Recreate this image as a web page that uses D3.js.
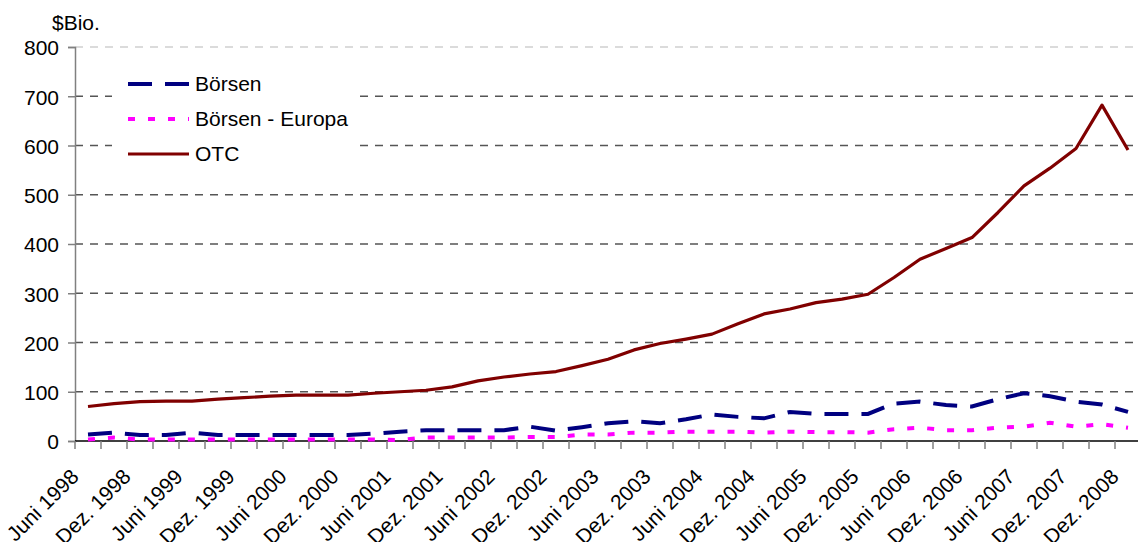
<!DOCTYPE html>
<html>
<head>
<meta charset="utf-8">
<script src="https://cdn.jsdelivr.net/npm/d3@7"></script>
<style>
  html, body { margin: 0; padding: 0; background: #fff; }
  svg { display: block; }
  text { font-family: "Liberation Sans", Arial, sans-serif; fill: #000; }
</style>
</head>
<body>
<svg id="chart" width="1138" height="542"></svg>
<script>
// ---- data ----
const categories = [
  "Juni 1998","Sept. 1998","Dez. 1998","März 1999","Juni 1999","Sept. 1999","Dez. 1999","März 2000",
  "Juni 2000","Sept. 2000","Dez. 2000","März 2001","Juni 2001","Sept. 2001","Dez. 2001","März 2002",
  "Juni 2002","Sept. 2002","Dez. 2002","März 2003","Juni 2003","Sept. 2003","Dez. 2003","März 2004",
  "Juni 2004","Sept. 2004","Dez. 2004","März 2005","Juni 2005","Sept. 2005","Dez. 2005","März 2006",
  "Juni 2006","Sept. 2006","Dez. 2006","März 2007","Juni 2007","Sept. 2007","Dez. 2007","Juni 2008",
  "Dez. 2008"
];
const shownLabels = [
  "Juni 1998","Dez. 1998","Juni 1999","Dez. 1999","Juni 2000","Dez. 2000","Juni 2001","Dez. 2001",
  "Juni 2002","Dez. 2002","Juni 2003","Dez. 2003","Juni 2004","Dez. 2004","Juni 2005","Dez. 2005",
  "Juni 2006","Dez. 2006","Juni 2007","Dez. 2007","Dez. 2008"
];
const boersen = [13,17,12,12,17,12,12,12,12,12,12,15,19,22,22,22,22,29,21,28,
                 36,40,36,44,54,49,46,59,55,55,55,76,80,73,70,85,97,91,80,74,59];
const boersenEuropa = [3,7,3,3,3,3,3,3,3,3,3,3,2,7,7,7,7,8,8,13,
                       13,17,17,19,19,19,17,19,18,18,17,24,27,22,22,27,29,37,29,34,27];
const otc = [70,76,80,81,81,85,88,91,93,93,93,97,100,103,110,122,130,136,141,153,
             166,185,198,207,217,238,258,268,281,288,298,332,369,391,413,464,518,554,594,682,591];
const yTicks = [0,100,200,300,400,500,600,700,800];
const seriesNames = ["Börsen","Börsen - Europa","OTC"];

// ---- layout ----
const svg = d3.select("#chart");
const x0 = 75, step = 26, yBottom = 441, yTop = 47;
const x = d3.scaleBand().domain(categories).range([x0, x0 + step * categories.length]).padding(0);
const cx = c => x(c) + x.bandwidth() / 2;
const y = d3.scaleLinear().domain([0, 800]).range([yBottom, yTop]);

// gridlines
svg.append("g").selectAll("line").data(yTicks.filter(d => d > 0)).join("line")
  .attr("x1", x0).attr("x2", 1138)
  .attr("y1", d => y(d)).attr("y2", d => y(d))
  .attr("stroke", d => d === 800 ? "#cfcfcf" : "#555")
  .attr("stroke-width", 1.3)
  .attr("stroke-dasharray", "8,7");

// y axis
const yAxis = d3.axisLeft(y).tickValues(yTicks).tickSize(7).tickPadding(9).tickFormat(d3.format("d"));
const gy = svg.append("g").attr("transform", `translate(${x0},0)`).call(yAxis);
gy.select(".domain").attr("stroke", "#808080").attr("stroke-width", 1.5);
gy.selectAll(".tick line").attr("stroke", "#808080").attr("stroke-width", 1.5);
gy.selectAll(".tick text").attr("font-size", 21).attr("font-family", "Liberation Sans, Arial, sans-serif").attr("fill", "#000").attr("dy", "0.38em");

// x axis line + ticks between categories
svg.append("line").attr("x1", x0).attr("x2", 1138).attr("y1", yBottom).attr("y2", yBottom)
  .attr("stroke", "#000").attr("stroke-width", 1.5);
const tickPos = d3.range(categories.length + 1).map(i => x0 + i * x.step());
svg.append("g").selectAll("line").data(tickPos).join("line")
  .attr("x1", d => d).attr("x2", d => d).attr("y1", yBottom).attr("y2", yBottom + 8)
  .attr("stroke", "#808080").attr("stroke-width", 1.5);

// x labels
svg.append("g").selectAll("text").data(shownLabels).join("text")
  .attr("transform", d => `translate(${cx(d) - 8},${yBottom + 37}) rotate(-45)`)
  .attr("text-anchor", "end")
  .attr("font-size", 21)
  .text(d => d);

// y title
svg.append("text").attr("x", 52).attr("y", 30).attr("font-size", 21).text("$Bio.");

// lines
const line = d3.line().x((d, i) => cx(categories[i])).y(d => y(d));
svg.append("path").datum(boersen).attr("d", line)
  .attr("fill", "none").attr("stroke", "#000080").attr("stroke-width", 4)
  .attr("stroke-dasharray", "24,13");
svg.append("path").datum(boersenEuropa).attr("d", line)
  .attr("fill", "none").attr("stroke", "#FF00FF").attr("stroke-width", 4)
  .attr("stroke-dasharray", "7,13");
svg.append("path").datum(otc).attr("d", line)
  .attr("fill", "none").attr("stroke", "#800000").attr("stroke-width", 3.2)
  .attr("stroke-linejoin", "round");

// legend
const lg = svg.append("g");
lg.append("rect").attr("x", 112).attr("y", 60).attr("width", 246).attr("height", 115).attr("fill", "#fff");
const legendItems = [
  {name: seriesNames[0], color: "#000080", dash: "24,13", w: 4, y: 84},
  {name: seriesNames[1], color: "#FF00FF", dash: "7,13", w: 4, y: 119},
  {name: seriesNames[2], color: "#800000", dash: null, w: 3.2, y: 154}
];
legendItems.forEach(it => {
  lg.append("line").attr("x1", 128).attr("x2", 189).attr("y1", it.y).attr("y2", it.y)
    .attr("stroke", it.color).attr("stroke-width", it.w)
    .attr("stroke-dasharray", it.dash);
  lg.append("text").attr("x", 195).attr("y", it.y + 7).attr("font-size", 21).text(it.name);
});
</script>
</body>
</html>
